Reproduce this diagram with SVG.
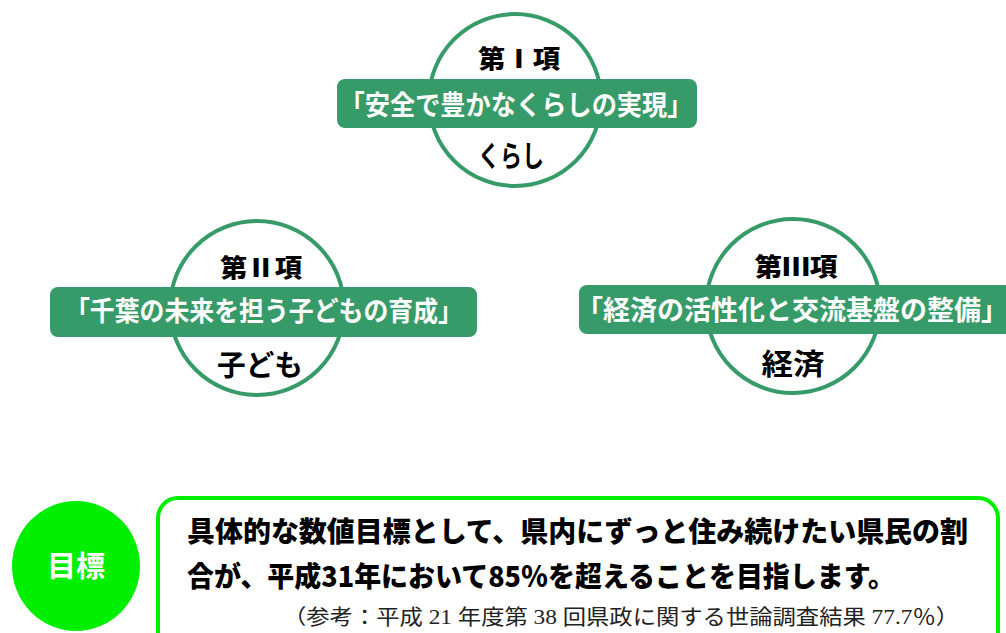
<svg xmlns="http://www.w3.org/2000/svg" width="1006" height="633" viewBox="0 0 1006 633">
<style>
.ring{fill:#fff;stroke:#379b69;stroke-width:4}
.band{fill:#379b69}
.bt{font-family:"Noto Sans CJK JP","Noto Sans",sans-serif;font-weight:700;fill:#fff;font-size:27px;text-anchor:middle}
.hd{font-family:"Noto Sans CJK JP","Noto Sans",sans-serif;font-weight:900;fill:#000;font-size:25px;text-anchor:middle}
.lb{font-family:"Noto Sans CJK JP","Noto Sans",sans-serif;font-weight:700;fill:#000;font-size:29px;text-anchor:middle}
.goal{font-family:"Noto Sans CJK JP","Noto Sans",sans-serif;font-weight:900;fill:#000;font-size:28px}
.ref{font-family:"Liberation Serif","Noto Sans CJK JP",serif;fill:#222;font-size:21px}
</style>
<g id="node-kurashi">
<circle class="ring" cx="515" cy="100" r="86"/>
<rect class="band" x="337" y="79" width="360" height="49" rx="8"/>
<text class="hd" x="519" y="68" textLength="82" lengthAdjust="spacingAndGlyphs">第Ⅰ項</text>
<text class="bt" x="516" y="115" textLength="353" lengthAdjust="spacingAndGlyphs">「安全で豊かなくらしの実現」</text>
<text class="lb" x="511" y="167" textLength="66" lengthAdjust="spacingAndGlyphs">くらし</text>
</g>
<g id="node-kodomo">
<circle class="ring" cx="257" cy="308" r="87"/>
<rect class="band" x="50" y="287" width="427" height="50" rx="8"/>
<text class="hd" x="261" y="277" textLength="82" lengthAdjust="spacingAndGlyphs">第Ⅱ項</text>
<text class="bt" x="264" y="321" textLength="398" lengthAdjust="spacingAndGlyphs">「千葉の未来を担う子どもの育成」</text>
<text class="lb" x="260" y="376" textLength="86" lengthAdjust="spacingAndGlyphs">子ども</text>
</g>
<g id="node-keizai">
<circle class="ring" cx="793" cy="306" r="87"/>
<path class="band" d="M587 285 H1006 V334 H587 A8 8 0 0 1 579 326 V293 A8 8 0 0 1 587 285 Z"/>
<text class="hd" x="796" y="276" textLength="83" lengthAdjust="spacingAndGlyphs">第Ⅲ項</text>
<text class="bt" x="792" y="320" font-size="26">「経済の活性化と交流基盤の整備」</text>
<text class="lb" x="793" y="375" font-size="31" textLength="63" lengthAdjust="spacingAndGlyphs">経済</text>
</g>
<g id="node-goal-badge">
<ellipse cx="76" cy="566" rx="64" ry="65" fill="#00ee00"/>
<text x="76" y="577" font-family="Noto Sans CJK JP,sans-serif" font-weight="700" font-size="29" fill="#fff" text-anchor="middle">目標</text>
</g>
<g id="node-goal-text">
<rect x="158" y="498" width="840" height="160" rx="20" fill="#fff" stroke="#00ee00" stroke-width="4"/>
<text class="goal" x="187" y="542" textLength="781" lengthAdjust="spacingAndGlyphs">具体的な数値目標として、県内にずっと住み続けたい県民の割</text>
<text class="goal" x="187" y="587" textLength="708" lengthAdjust="spacingAndGlyphs">合が、平成31年において85％を超えることを目指します。</text>
<text class="ref" x="283" y="624" textLength="676" lengthAdjust="spacingAndGlyphs">（参考：平成 21 年度第 38 回県政に関する世論調査結果 77.7％）</text>
</g>
<g id="connectors"></g>
</svg>
